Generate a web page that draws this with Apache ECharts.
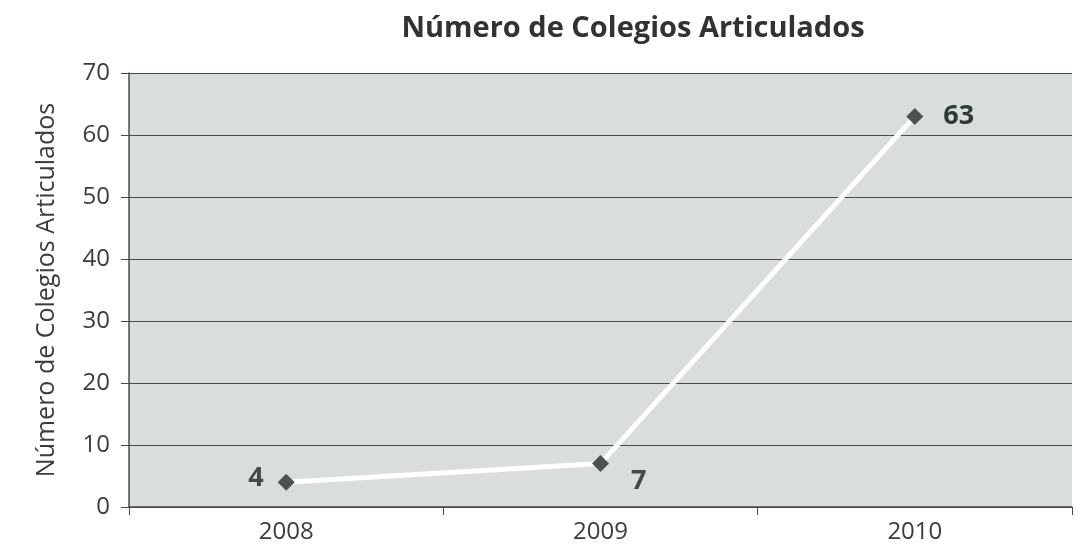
<!DOCTYPE html>
<html><head><meta charset="utf-8">
<script src="https://cdn.jsdelivr.net/npm/echarts@6/dist/echarts.min.js"></script>
<style>html,body{margin:0;padding:0;background:#fff}#c{width:1076px;height:555px}</style>
</head><body><div id="c"></div>
<script>
const categories = ['2008', '2009', '2010'];
const values = [4, 7, 63];
const yTicks = [0, 10, 20, 30, 40, 50, 60, 70];

const chart = echarts.init(document.getElementById('c'));
chart.setOption({
  backgroundColor: '#ffffff',
  title: {
    text: 'Número de Colegios Articulados',
    left: 628, top: 9, textAlign: 'center',
    textStyle: {fontFamily: 'Open Sans', fontWeight: 'bold', fontSize: 29, color: '#2f3331'}
  },
  grid: {left: 129, right: 4, top: 73, bottom: 48, show: true, backgroundColor: '#d9dddc', borderWidth: 0},
  xAxis: {
    type: 'category', data: categories, boundaryGap: true,
    axisLine: {lineStyle: {color: '#4a4a4a', width: 1.5}},
    axisTick: {show: true, length: 8, lineStyle: {color: '#4a4a4a'}},
    axisLabel: {fontFamily: 'Open Sans', fontSize: 24, color: '#3c3c3c', margin: 13}
  },
  yAxis: {
    type: 'value', min: yTicks[0], max: yTicks[yTicks.length - 1], interval: 10,
    name: 'Número de Colegios Articulados', nameLocation: 'middle', nameGap: 70, nameRotate: 90,
    nameTextStyle: {fontFamily: 'Open Sans', fontSize: 25, color: '#3c3c3c'},
    axisLine: {show: true, lineStyle: {color: '#4a4a4a', width: 1.5}},
    axisTick: {show: true, length: 8, inside: false, lineStyle: {color: '#4a4a4a'}},
    axisLabel: {fontFamily: 'Open Sans', fontSize: 24, color: '#3c3c3c', margin: 19},
    splitLine: {lineStyle: {color: '#4a4a4a', width: 1.2}}
  },
  series: [{
    type: 'line', data: values.map((v, i) => ({
      value: v,
      label: i === 0 ? {position: 'left', distance: 14, offset: [0, -4]} :
             i === 1 ? {position: 'right', distance: 22, offset: [0, 18]} :
                       {position: 'right', distance: 20, color: '#2c3b36'}
    })),
    symbol: 'diamond', symbolSize: 17,
    itemStyle: {color: '#4d5250'},
    lineStyle: {color: '#ffffff', width: 5},
    label: {show: true, fontFamily: 'Open Sans', fontWeight: 'bold', fontSize: 27, color: '#45494a'}
  }]
});
</script></body></html>
